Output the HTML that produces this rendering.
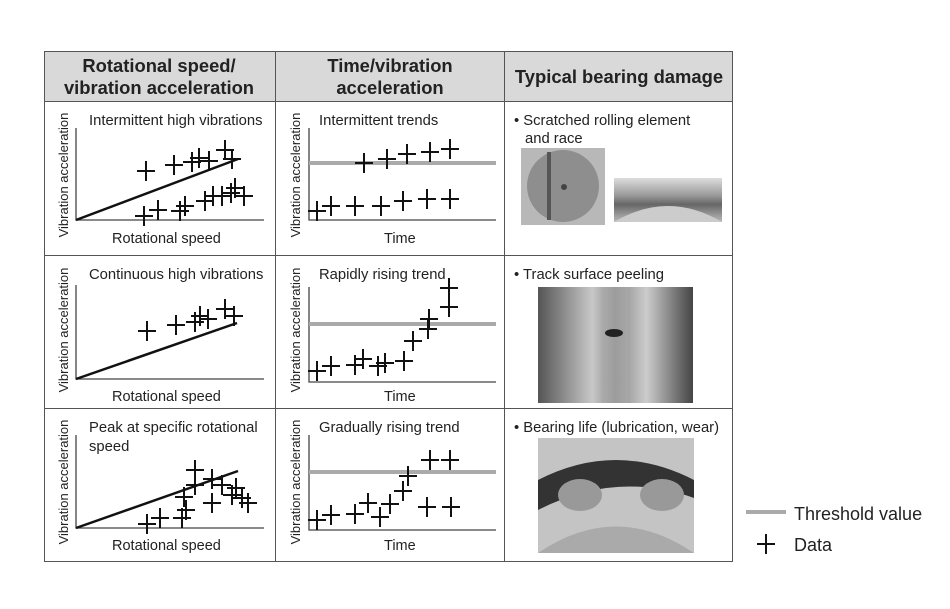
<!DOCTYPE html>
<html><head><meta charset="utf-8"><style>
html,body{margin:0;padding:0;background:#fff}
svg{display:block;font-family:"Liberation Sans","DejaVu Sans",sans-serif}
</style></head><body>
<svg width="950" height="609" viewBox="0 0 950 609" xmlns="http://www.w3.org/2000/svg">
<defs>
<linearGradient id="g1" x1="0" x2="1"><stop offset="0" stop-color="#555"/><stop offset="0.35" stop-color="#c8c8c8"/><stop offset="0.5" stop-color="#888"/><stop offset="0.7" stop-color="#ccc"/><stop offset="1" stop-color="#444"/></linearGradient>
<linearGradient id="g2" x1="0" y1="0" x2="0" y2="1"><stop offset="0" stop-color="#ddd"/><stop offset="0.4" stop-color="#999"/><stop offset="0.6" stop-color="#666"/><stop offset="1" stop-color="#bbb"/></linearGradient>
<symbol id="p" overflow="visible"><path d="M-9 0H9M0 -10V10" stroke="#111" stroke-width="2" fill="none"/></symbol>
</defs>
<rect x="44" y="51" width="689" height="50" fill="#d9d9d9"/>
<g fill="none" stroke="#555" stroke-width="1">
<rect x="44.5" y="51.5" width="688" height="510"/>
<line x1="44" y1="101.5" x2="733" y2="101.5"/>
<line x1="44" y1="255.5" x2="733" y2="255.5"/>
<line x1="44" y1="408.5" x2="733" y2="408.5"/>
<line x1="275.5" y1="51" x2="275.5" y2="562"/>
<line x1="504.5" y1="51" x2="504.5" y2="562"/>
</g>
<g font-weight="bold" font-size="18.4" fill="#222" text-anchor="middle">
<text x="159" y="72">Rotational speed/</text>
<text x="159" y="94">vibration acceleration</text>
<text x="390" y="72">Time/vibration</text>
<text x="390" y="94">acceleration</text>
<text x="619" y="83">Typical bearing damage</text>
</g>
<g stroke="#444" stroke-width="1.3" fill="none">
<path d="M76 128V220H264"/><path d="M309 128V220H496"/>
<path d="M76 285V379H264"/><path d="M309 287V382H496"/>
<path d="M76 435V528H264"/><path d="M309 435V530H496"/>
</g>
<g stroke="#aaa" stroke-width="4">
<line x1="309" y1="163" x2="496" y2="163"/>
<line x1="309" y1="324" x2="496" y2="324"/>
<line x1="309" y1="472" x2="496" y2="472"/>
</g>
<g stroke="#111" stroke-width="2.5">
<line x1="76" y1="220" x2="238" y2="159"/>
<line x1="76" y1="379" x2="237" y2="323"/>
<line x1="76" y1="528" x2="238" y2="471"/>
</g>
<g font-size="14.8" fill="#222">
<text x="89" y="125">Intermittent high vibrations</text>
<text x="319" y="125">Intermittent trends</text>
<text x="89" y="279">Continuous high vibrations</text>
<text x="319" y="279">Rapidly rising trend</text>
<text x="89" y="432">Peak at specific rotational</text>
<text x="89" y="451">speed</text>
<text x="319" y="432">Gradually rising trend</text>
</g>
<g font-size="14.5" fill="#222">
<text x="112" y="243">Rotational speed</text>
<text x="112" y="401">Rotational speed</text>
<text x="112" y="550">Rotational speed</text>
<text x="384" y="243">Time</text>
<text x="384" y="401">Time</text>
<text x="384" y="550">Time</text>
</g>
<g font-size="13" fill="#222" text-anchor="middle">
<text transform="translate(68,175) rotate(-90)">Vibration acceleration</text>
<text transform="translate(300,175) rotate(-90)">Vibration acceleration</text>
<text transform="translate(68,330) rotate(-90)">Vibration acceleration</text>
<text transform="translate(300,330) rotate(-90)">Vibration acceleration</text>
<text transform="translate(68,482) rotate(-90)">Vibration acceleration</text>
<text transform="translate(300,482) rotate(-90)">Vibration acceleration</text>
</g>
<g>
<use href="#p" x="146" y="171"/><use href="#p" x="174" y="165"/><use href="#p" x="192" y="162"/><use href="#p" x="199" y="158"/><use href="#p" x="209" y="161"/><use href="#p" x="225" y="150"/><use href="#p" x="232" y="159"/>
<use href="#p" x="144" y="216"/><use href="#p" x="158" y="210"/><use href="#p" x="180" y="211"/><use href="#p" x="185" y="206"/><use href="#p" x="205" y="201"/><use href="#p" x="213" y="196"/><use href="#p" x="222" y="196"/><use href="#p" x="231" y="193"/><use href="#p" x="235" y="188"/><use href="#p" x="244" y="196"/>
<use href="#p" x="364" y="163"/><use href="#p" x="387" y="159"/><use href="#p" x="407" y="154"/><use href="#p" x="430" y="152"/><use href="#p" x="450" y="149"/>
<use href="#p" x="317" y="211"/><use href="#p" x="331" y="206"/><use href="#p" x="355" y="206"/><use href="#p" x="381" y="206"/><use href="#p" x="403" y="201"/><use href="#p" x="427" y="199"/><use href="#p" x="450" y="199"/>
<use href="#p" x="147" y="331"/><use href="#p" x="176" y="325"/><use href="#p" x="195" y="322"/><use href="#p" x="200" y="316"/><use href="#p" x="208" y="319"/><use href="#p" x="225" y="309"/><use href="#p" x="234" y="316"/>
<use href="#p" x="317" y="371"/><use href="#p" x="331" y="366"/><use href="#p" x="355" y="365"/><use href="#p" x="363" y="359"/><use href="#p" x="378" y="366"/><use href="#p" x="385" y="363"/><use href="#p" x="404" y="361"/><use href="#p" x="413" y="341"/><use href="#p" x="428" y="329"/><use href="#p" x="429" y="319"/><use href="#p" x="449" y="307"/><use href="#p" x="449" y="288"/>
<use href="#p" x="147" y="524"/><use href="#p" x="160" y="518"/><use href="#p" x="182" y="518"/><use href="#p" x="186" y="510"/><use href="#p" x="184" y="497"/><use href="#p" x="195" y="485"/><use href="#p" x="195" y="470"/><use href="#p" x="212" y="479"/><use href="#p" x="222" y="485"/><use href="#p" x="212" y="503"/><use href="#p" x="232" y="495"/><use href="#p" x="236" y="488"/><use href="#p" x="242" y="498"/><use href="#p" x="248" y="503"/>
<use href="#p" x="317" y="520"/><use href="#p" x="331" y="515"/><use href="#p" x="355" y="514"/><use href="#p" x="368" y="503"/><use href="#p" x="380" y="517"/><use href="#p" x="390" y="504"/><use href="#p" x="403" y="491"/><use href="#p" x="408" y="476"/><use href="#p" x="430" y="460"/><use href="#p" x="450" y="460"/><use href="#p" x="427" y="507"/><use href="#p" x="451" y="507"/>
</g>
<g font-size="14.8" fill="#222">
<text x="514" y="125">• Scratched rolling element</text>
<text x="525" y="143">and race</text>
<text x="514" y="279">• Track surface peeling</text>
<text x="514" y="432">• Bearing life (lubrication, wear)</text>
</g>
<rect x="521" y="148" width="84" height="77" fill="#b8b8b8"/>
<circle cx="563" cy="186" r="36" fill="#8e8e8e"/>
<rect x="547" y="152" width="4" height="68" fill="#555"/>
<circle cx="564" cy="187" r="3" fill="#444"/>
<rect x="614" y="178" width="108" height="44" fill="url(#g2)"/>
<path d="M614 222Q668 190 722 222Z" fill="#ccc"/>
<rect x="538" y="287" width="155" height="116" fill="url(#g1)"/>
<rect x="602" y="287" width="26" height="116" fill="#aaa" opacity="0.6"/>
<ellipse cx="614" cy="333" rx="9" ry="4" fill="#222"/>
<rect x="538" y="438" width="156" height="115" fill="#c4c4c4"/>
<path d="M538 480Q616 440 694 480V498Q616 470 538 510Z" fill="#333"/>
<ellipse cx="580" cy="495" rx="22" ry="16" fill="#999"/>
<ellipse cx="662" cy="495" rx="22" ry="16" fill="#999"/>
<path d="M538 553Q616 500 694 553Z" fill="#aaa"/>
<line x1="746" y1="512" x2="786" y2="512" stroke="#aaa" stroke-width="4"/>
<text x="794" y="520" font-size="18" fill="#222">Threshold value</text>
<use href="#p" x="766" y="544"/>
<text x="794" y="551" font-size="18" fill="#222">Data</text>
</svg>
</body></html>
